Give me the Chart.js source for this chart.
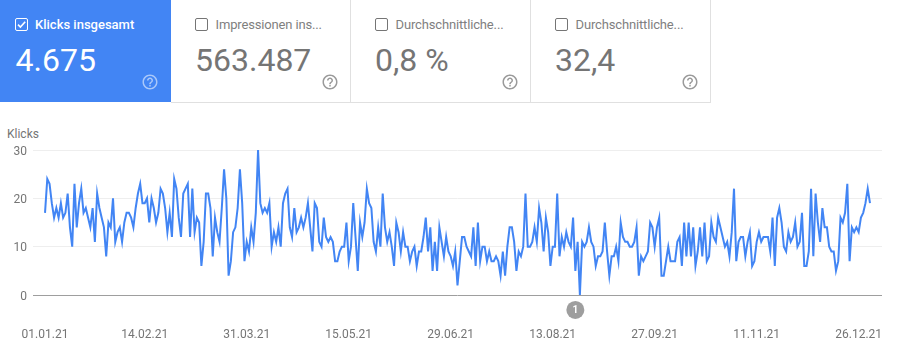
<!DOCTYPE html>
<html lang="de">
<head>
<meta charset="utf-8">
<title>Klicks</title>
<script src="https://cdn.jsdelivr.net/npm/chart.js@4/dist/chart.umd.min.js"></script>
<style>
html,body{margin:0;padding:0;background:#fff;width:908px;height:356px;overflow:hidden;font-family:Roboto,sans-serif}
.card{position:absolute;top:0;height:102px;box-sizing:content-box;color:#757575;border-bottom:1px solid #e0e0e0;border-right:1px solid #e0e0e0}
.card.on{background:#4285f4;color:#fff;border:0;height:102px}
.box{position:absolute;left:24px;top:18px;width:11px;height:11px;border:1.5px solid #757575;border-radius:2px}
.on .box{left:15px;border-color:#fff}
.box svg{position:absolute;left:0;top:0;width:11px;height:11px}
.lab{position:absolute;left:44.5px;top:17px;font-size:13px;line-height:16px;white-space:nowrap;color:#7f7f7f;letter-spacing:-.15px}
.on .lab{left:35px;font-weight:500;color:#fff;letter-spacing:0}
.val{position:absolute;left:24px;top:41px;font-size:32px;line-height:38px;white-space:nowrap}
.on .val{left:15.5px}
.help{position:absolute;top:73px;width:18px;height:18px}
.help path{fill:#9a9a9a}
.on .help path{fill:#fff;fill-opacity:.55}
#ylab{position:absolute;left:7px;top:126px;font-size:12px;line-height:16px;color:#757575}
canvas{position:absolute;left:0;top:0}
</style>
</head>
<body>
<div id="cards"></div>
<div id="ylab">Klicks</div>
<canvas id="c" width="908" height="356"></canvas>
<script>
const metricLabels = ["Klicks insgesamt", "Impressionen ins...", "Durchschnittliche...", "Durchschnittliche..."];
const metricValues = ["4.675", "563.487", "0,8 %", "32,4"];
const seriesName = "Klicks";
const clicks = [
17,24,23,19,16,18,16,19,16,17,
21,14,10,23,14,19,22,17,18,16,
14,18,11,21,18,16,14,8,15,14,
20,11,13,14,11,15,17,17,16,14,
18,21,23,19,19,20,15,20,18,15,
17,22,21,18,13,17,12,24,22,16,
12,21,22,23,12,22,13,16,15,6,
11,21,21,18,8,16,13,11,18,26,
20,4,7,13,14,18,26,19,7,11,
9,14,11,17,30,19,17,18,17,19,
10,13,11,14,10,19,21,22,14,12,
18,13,14,16,14,16,19,14,9,19,
18,11,10,16,12,11,12,11,7,7,
9,10,10,15,7,10,19,12,5,15,
12,15,22,19,18,11,9,14,10,21,
14,11,13,10,6,15,13,9,13,10,
10,7,9,10,6,9,9,12,16,9,
14,5,11,5,14,11,8,12,9,8,
6,9,2,7,12,12,10,9,8,14,
6,15,7,10,10,7,9,7,7,8,
7,4,9,4,10,14,14,11,5,9,
8,10,21,10,10,11,14,11,18,15,
9,16,13,6,10,10,21,8,12,10,
13,11,10,16,5,11,0,11,10,11,
14,11,10,6,8,8,9,15,9,4,
8,8,10,7,15,12,11,11,10,10,
11,14,4,8,7,8,9,15,14,10,
14,16,4,4,7,10,7,7,7,11,
12,6,15,8,15,8,14,6,9,14,
8,15,7,8,15,12,11,16,14,12,
10,11,8,13,22,7,11,12,12,8,
11,13,6,7,11,13,11,12,12,12,
9,16,6,16,18,15,10,9,13,11,
12,15,10,11,17,6,6,9,22,8,
21,15,11,18,14,14,10,9,9,5,
7,16,15,17,23,7,14,13,14,13,
16,17,19,22,19
];
const tickDays = [0,44,89,134,179,224,269,314,359];
const tickLabels = ["01.01.21","14.02.21","31.03.21","15.05.21","29.06.21","13.08.21","27.09.21","11.11.21","26.12.21"];
const yTicks = [0,10,20,30];
const markerDays = [234];
const markerLevels = [-3.1];
const markerTexts = ["1"];

const helpPath = "M11 18h2v-2h-2v2zm1-16C6.48 2 2 6.48 2 12s4.48 10 10 10 10-4.48 10-10S17.52 2 12 2zm0 18c-4.41 0-8-3.59-8-8s3.59-8 8-8 8 3.59 8 8-3.59 8-8 8zm0-14c-2.21 0-4 1.79-4 4h2c0-1.1.9-2 2-2s2 .9 2 2c0 2-3 1.75-3 5h2c0-2.25 3-2.5 3-5 0-2.21-1.79-4-4-4z";
const cardLefts = [0,171,351,531];
const cardWidths = [171,179,179,179];
const holder = document.getElementById('cards');
metricLabels.forEach((t,i)=>{
  const d = document.createElement('div');
  d.className = 'card' + (i===0?' on':'');
  d.style.left = cardLefts[i]+'px';
  d.style.width = cardWidths[i]+'px';
  const tick = i===0 ? '<svg viewBox="0 0 11 11"><path d="M2 5.7 L4.4 8 L9.2 2.8" fill="none" stroke="#fff" stroke-width="1.6"/></svg>' : '';
  d.innerHTML = '<div class="box">'+tick+'</div><div class="lab">'+t+'</div><div class="val">'+metricValues[i]+'</div>'+
    '<svg class="help" style="left:'+(i===0?141:150)+'px" viewBox="0 0 24 24"><path d="'+helpPath+'"/></svg>';
  holder.appendChild(d);
});

const markerDraw = {
  id:'markerDraw',
  afterDatasetsDraw(chart){
    const meta = chart.getDatasetMeta(1);
    const ctx = chart.ctx;
    const page = {left:0,top:0,right:chart.width,bottom:chart.height};
    ctx.save();
    meta.data.forEach((p,i)=>{
      p.draw(ctx, page);
      ctx.fillStyle = '#fff';
      ctx.font = '700 10px Roboto';
      ctx.textAlign = 'center';
      ctx.textBaseline = 'middle';
      ctx.fillText(markerTexts[i], p.x, p.y+0.5);
    });
    ctx.restore();
  }
};

new Chart(document.getElementById('c'), {
  type:'line',
  data:{datasets:[
    {label:seriesName, data:clicks.map((v,i)=>({x:i,y:v})), borderColor:'#4285f4', borderWidth:2, pointRadius:0, tension:0, fill:false, clip:false},
    {label:'Anmerkung', data:markerDays.map((d,i)=>({x:d,y:markerLevels[i]})), showLine:false, pointRadius:9, pointBackgroundColor:'#9e9e9e', pointBorderWidth:0, clip:false}
  ]},
  options:{
    responsive:false, animation:false, events:[],
    layout:{autoPadding:false, padding:{left:0,right:26,top:150,bottom:0}},
    plugins:{legend:{display:false},tooltip:{enabled:false}},
    scales:{
      x:{type:'linear', min:-5.3, max:369.3,
        afterBuildTicks:s=>{s.ticks = tickDays.map(v=>({value:v}));},
        afterFit:s=>{s.height = 61; s.paddingLeft = 0; s.paddingRight = 0;},
        grid:{display:false}, border:{display:false},
        ticks:{autoSkip:false, maxRotation:0, padding:25, color:'#757575', font:{family:'Roboto',size:12},
          callback:v=>tickLabels[tickDays.indexOf(v)]}
      },
      y:{min:0,max:30,
        afterBuildTicks:s=>{s.ticks = yTicks.map(v=>({value:v}));},
        afterFit:s=>{s.width = 33; s.paddingTop = 0; s.paddingBottom = 0;},
        border:{display:false},
        grid:{drawTicks:false, lineWidth:1, color:c=>c.tick.value===0?'#9e9e9e':'#eeeeee'},
        ticks:{padding:6, labelOffset:1.5, color:'#757575', font:{family:'Roboto',size:12}}
      }
    }
  },
  plugins:[markerDraw]
});
</script>
</body>
</html>
